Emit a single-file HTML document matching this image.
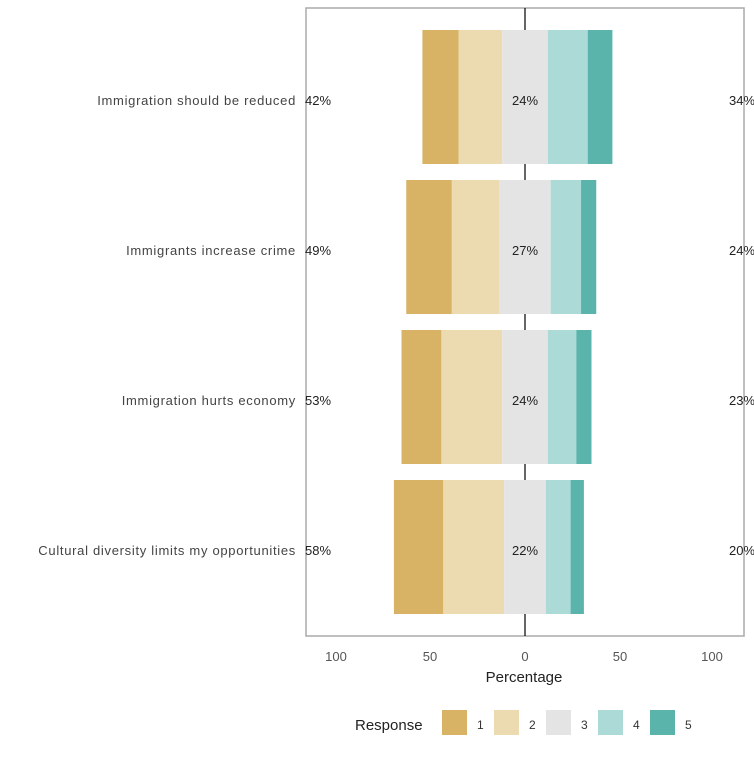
<!DOCTYPE html>
<html><head><meta charset="utf-8"><style>
body{margin:0;background:#fff;font-family:"Liberation Sans",sans-serif}
svg text{font-family:"Liberation Sans",sans-serif}
</style></head><body>
<svg id="chart" width="754" height="754" xmlns="http://www.w3.org/2000/svg"></svg>
<script>
const categories=["Immigration should be reduced","Immigrants increase crime","Immigration hurts economy","Cultural diversity limits my opportunities"];
const r1=[19,24,21,26];
const r2=[23,25,32,32];
const r3=[24,27,24,22];
const r4=[21,16,15,13];
const r5=[13,8,8,7];
const leftLabels=["42%","49%","53%","58%"];
const midLabels=["24%","27%","24%","22%"];
const rightLabels=["34%","24%","23%","20%"];
const ticks=[-100,-50,0,50,100];
const colors=["#d9b365","#ecdbb0","#e4e4e4","#acdbd7","#5ab4ac"];
const svg=document.getElementById('chart');
const NS="http://www.w3.org/2000/svg";
function mk(t,a,p){const e=document.createElementNS(NS,t);for(const k in a)e.setAttribute(k,a[k]);(p||svg).appendChild(e);return e;}
const X0=525,S=1.9;
const x=v=>X0+v*S;
const rowTop=[30,181,331,480],bh=134;
const y=i=>rowTop[0]+i*((rowTop[3]-rowTop[0])/3);
const pl=mk('rect',{x:306,y:8,width:438,height:628,fill:'#fff',stroke:'#aaa','stroke-width':1.5});

const zl=mk('line',{x1:x(0),x2:x(0),y1:8,y2:636,stroke:'#000','stroke-width':1.2});

const series=[r1,r2,r3,r4,r5];
categories.forEach((c,i)=>{
  const start=-(r1[i]+r2[i]+r3[i]/2);
  let cur=start;
  series.forEach((s,k)=>{
    const r=mk('rect',{x:x(cur),y:y(i),width:s[i]*S,height:bh,fill:colors[k]});
    
    
    cur+=s[i];
  });
  const cy=y(i)+bh/2+8;
  const t=mk('text',{x:296,y:cy,'text-anchor':'end','font-size':13,'letter-spacing':0.7,fill:'#444'});t.textContent=c;
  
  const a=mk('text',{x:305,y:cy,'font-size':13,fill:'#222'});a.textContent=leftLabels[i];
  
  const b=mk('text',{x:x(0),y:cy,'text-anchor':'middle','font-size':13,fill:'#222'});b.textContent=midLabels[i];
  
  const d=mk('text',{x:729,y:cy,'font-size':13,fill:'#222'});d.textContent=rightLabels[i];
  
});
ticks.forEach(v=>{
  const t=mk('text',{x:x(v)-(v===100?3:0)+(v===-100?1:0),y:661,'text-anchor':'middle','font-size':13,fill:'#555'});t.textContent=Math.abs(v);
  
});
const xt=mk('text',{x:524,y:682,'text-anchor':'middle','font-size':15,fill:'#222'});xt.textContent='Percentage';

const lt=mk('text',{x:355,y:730,'font-size':15,fill:'#222'});lt.textContent='Response';

colors.forEach((c,k)=>{
  const g=mk('g',{});
  
  mk('rect',{x:442+k*52,y:710,width:25,height:25,fill:c},g);
  const t=mk('text',{x:477+k*52,y:729,'font-size':12,fill:'#333'},g);t.textContent=k+1;
});
</script>
</body></html>
